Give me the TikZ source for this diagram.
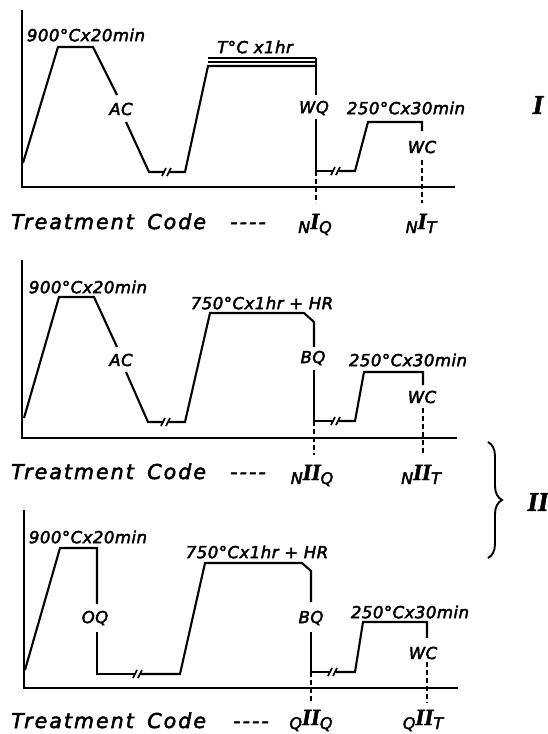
\documentclass[tikz,border=0pt]{standalone}
\usepackage{fontspec}
\usetikzlibrary{decorations.pathreplacing}
\newfontfamily\lbf[LetterSpace=3,FakeBold=2.6]{DejaVu Sans}
\newfontfamily\tcf[LetterSpace=10,FakeBold=2.6]{DejaVu Sans}
\newfontfamily\rnf[FakeBold=2]{Liberation Serif}
\newcommand\tcode[3]{{\lbf\itshape\fontsize{16}{16}\selectfont #1}\raisebox{4pt}{\rnf\bfseries\itshape\fontsize{23}{23}\selectfont #2}{\lbf\itshape\fontsize{16}{16}\selectfont #3}}
\tikzset{
  curve/.style={line width=2.1pt, line join=miter},
  axisline/.style={line width=2.2pt},
  dropline/.style={line width=2.1pt, dash pattern=on 5pt off 3pt},
  lbl/.style={font=\lbf\itshape\fontsize{16.5}{16.5}\selectfont, inner sep=0pt},
  tclbl/.style={font=\tcf\itshape\fontsize{20.5}{20.5}\selectfont, inner sep=0pt, anchor=base west},
  codelbl/.style={inner sep=0pt, anchor=base},
  romlbl/.style={font=\rnf\bfseries\itshape\fontsize{27}{27}\selectfont, inner sep=0pt},
  brk/.pic={\draw[line width=1.7pt] (-5,4)--(-1,-4); \draw[line width=1.7pt] (0,4)--(4,-4);}
}
\begin{document}
\begin{tikzpicture}[x=1pt,y=-1pt]
\useasboundingbox (0,0) rectangle (548,734);
% ---------------- Panel I ----------------
\draw[axisline] (22,10) -- (22,187) -- (455,187);
\draw[curve] (23,163) -- (58,47) -- (93,47) -- (117,95);
\draw[curve] (126,122) -- (149,172) -- (164,172);
\pic at (167,172) {brk};
\draw[curve] (170,172) -- (185,172) -- (208,66) -- (316,66);
\draw[line width=1.6pt] (208,58) -- (316,58);
\draw[line width=1.4pt] (208,62) -- (316,62);
\draw[curve] (316,57.5) -- (316,95);
\draw[curve] (316,119) -- (316,171) -- (333,171);
\pic at (336,171) {brk};
\draw[curve] (339,171) -- (355,171) -- (368,122) -- (422,122) -- (422,131);
\draw[dropline] (422,160) -- (422,203);
\draw[dropline] (316,171) -- (316,203);
\node[lbl] (t1a) at (86,35) {900°Cx20min};
\node[lbl] (t1b) at (255,47) {T°C x1hr};
\node[lbl] (t1c) at (406,108) {250°Cx30min};
\node[lbl] (ac1) at (121,109) {AC};
\node[lbl] (wq1) at (314,108) {WQ};
\node[lbl] (wc1) at (422,147) {WC};
\node[romlbl] (r1) at (538,105) {I};
\node[tclbl] (tc1) at (11,229) {Treatment\hspace{5pt} Code};
\node[tclbl] (dd1) at (230,229) {-\hspace{2pt}-\hspace{2pt}-\hspace{2pt}-};
\node[codelbl] (c1q) at (315,233) {\tcode{N}{I}{Q}};
\node[codelbl] (c1t) at (421,233) {\tcode{N}{I}{T}};
% ---------------- Panel II-N ----------------
\draw[axisline] (22,260) -- (22,438) -- (457,438);
\draw[curve] (24,418) -- (59,297) -- (94,297) -- (117,347);
\draw[curve] (126,372) -- (148,422) -- (163,422);
\pic at (166,422) {brk};
\draw[curve] (169,422) -- (185,422) -- (210,313) -- (304,313) -- (314,322) -- (314,347);
\draw[curve] (314,370) -- (314,421) -- (333,421);
\pic at (336,421) {brk};
\draw[curve] (339,421) -- (355,421) -- (364,372) -- (423,372) -- (423,385);
\draw[dropline] (423,408) -- (423,455);
\draw[dropline] (314,421) -- (314,455);
\node[lbl] (t2a) at (88,287) {900°Cx20min};
\node[lbl] (t2b) at (262,303) {750°Cx1hr + HR};
\node[lbl] (t2c) at (408,360) {250°Cx30min};
\node[lbl] (ac2) at (121,360) {AC};
\node[lbl] (bq2) at (313,358) {BQ};
\node[lbl] (wc2) at (422,397) {WC};
\node[tclbl] (tc2) at (11,479) {Treatment\hspace{5pt} Code};
\node[tclbl] (dd2) at (230,479) {-\hspace{2pt}-\hspace{2pt}-\hspace{2pt}-};
\node[codelbl] (c2q) at (312,484) {\tcode{N}{II}{Q}};
\node[codelbl] (c2t) at (421,484) {\tcode{N}{II}{T}};
% brace
\coordinate (bt) at (488,442);
\coordinate (bb) at (488,558);
\draw[line width=1.9pt, decorate, decoration={brace, amplitude=14pt}] (bt) -- (bb);
\node[romlbl] (r2) at (538,502) {II};
% ---------------- Panel II-Q ----------------
\draw[axisline] (24,510) -- (24,688) -- (458,688);
\draw[curve] (25,670) -- (60,548) -- (97,548) -- (97,604);
\draw[curve] (97,632) -- (97,674) -- (135,674);
\pic at (138,674) {brk};
\draw[curve] (141,674) -- (180,674) -- (205,563) -- (302,563) -- (311,571) -- (311,602);
\draw[curve] (311,632) -- (311,672) -- (330,672);
\pic at (333,672) {brk};
\draw[curve] (336,672) -- (355,672) -- (363,622) -- (427,622) -- (427,638);
\draw[dropline] (427,662) -- (427,703);
\draw[dropline] (311,672) -- (311,703);
\node[lbl] (t3a) at (88,537) {900°Cx20min};
\node[lbl] (t3b) at (257,552) {750°Cx1hr + HR};
\node[lbl] (t3c) at (410,612) {250°Cx30min};
\node[lbl] (oq3) at (95,618) {OQ};
\node[lbl] (bq3) at (311,618) {BQ};
\node[lbl] (wc3) at (423,653) {WC};
\node[tclbl] (tc3) at (11,728) {Treatment\hspace{5pt} Code};
\node[tclbl] (dd3) at (233,728) {-\hspace{2pt}-\hspace{2pt}-\hspace{2pt}-};
\node[codelbl] (c3q) at (311,729) {\tcode{Q}{II}{Q}};
\node[codelbl] (c3t) at (423,729) {\tcode{Q}{II}{T}};
\end{tikzpicture}
\end{document}
